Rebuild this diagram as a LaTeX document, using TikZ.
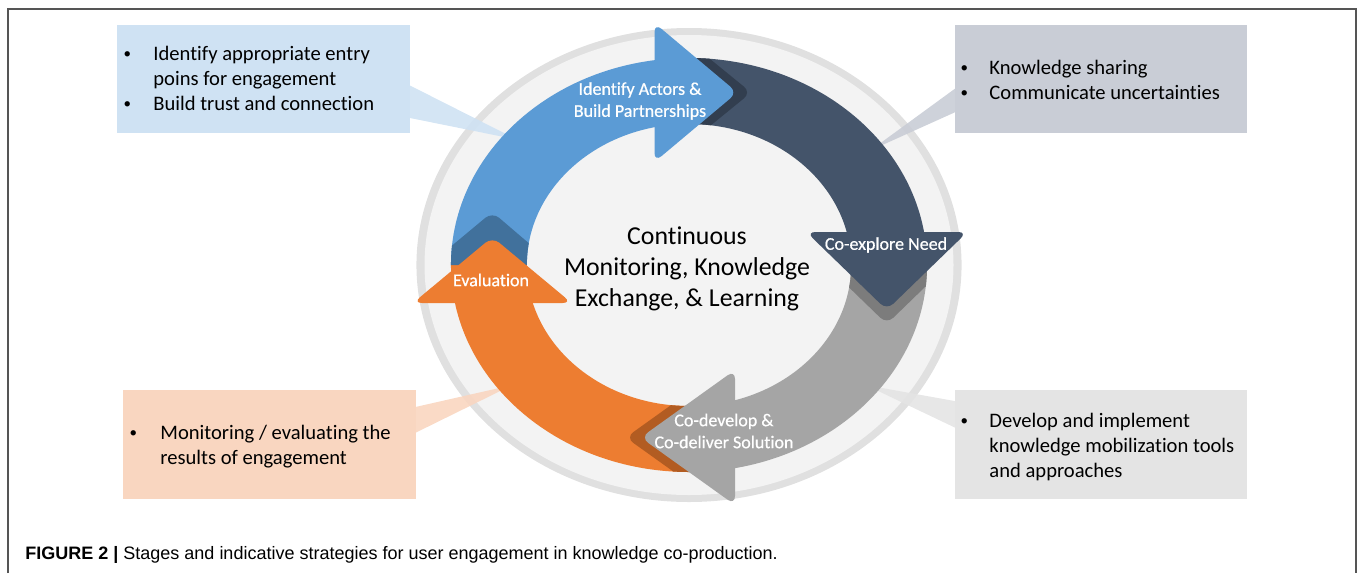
\documentclass[tikz,border=0pt]{standalone}
\usepackage{fontspec}
\setmainfont{Carlito}[Ligatures=NoCommon]
\newfontfamily\lblfont{Carlito}[Ligatures=NoCommon, FakeBold=0.6]
\newfontfamily\capfont{Liberation Sans}
\definecolor{bluec}{HTML}{5B9BD5}
\definecolor{blues}{HTML}{41719C}
\definecolor{navyc}{HTML}{44546A}
\definecolor{navys}{HTML}{323E4F}
\definecolor{grayc}{HTML}{A5A5A5}
\definecolor{grays}{HTML}{7C7C7C}
\definecolor{orangec}{HTML}{ED7D31}
\definecolor{oranges}{HTML}{B25C22}
\definecolor{ringc}{HTML}{E0E0E0}
\definecolor{discc}{HTML}{F3F3F3}
\definecolor{tlc}{HTML}{CFE2F3}
\definecolor{trc}{HTML}{C9CDD6}
\definecolor{blc}{HTML}{F9D6C0}
\definecolor{brc}{HTML}{E4E4E4}
\definecolor{framec}{HTML}{555555}
\newcommand{\bulA}[1]{\makebox[#1][l]{\hspace{0.6pt}\raisebox{0.7pt}{\fontsize{7.5}{7.5}\selectfont •}}}
\tikzset{
  lbl/.style={text=white, font=\lblfont\fontsize{9}{11}\selectfont, align=center, inner sep=0pt},
  btxt/.style={anchor=base west, inner sep=0pt, font=\fontsize{10.3}{12.6}\selectfont},
  headshape/.style={rounded corners=4.5pt},
}
\begin{document}
\begin{tikzpicture}[x=0.5pt,y=-0.5pt]
\useasboundingbox (0,0) rectangle (1358,573);
% frame
\draw[framec, line width=1pt] (7.5,573) -- (7.5,8.5) -- (1355.5,8.5) -- (1355.5,573);

% background disc
\begin{scope}[shift={(689,265)}, xscale=1.15, yscale=-1]
  \fill[ringc] (0,0) circle (237);
  \fill[discc] (0,0) circle (230);
  \coordinate (tTL) at (140:195);
  \coordinate (tTR) at (36:195);
  \coordinate (tBL) at (218:195);
  \coordinate (tBR) at (-38:195);
\end{scope}

% callout wedges
\coordinate (wTL1) at (405,83);  \coordinate (wTL2) at (405,117);
\coordinate (wTR1) at (960,85);  \coordinate (wTR2) at (960,110);
\coordinate (wBL1) at (411,408); \coordinate (wBL2) at (411,435);
\coordinate (wBR1) at (960,402); \coordinate (wBR2) at (960,430);
\fill[tlc, opacity=.9] (wTL1) -- (wTL2) -- (tTL) -- cycle;
\fill[trc, opacity=.9] (wTR1) -- (wTR2) -- (tTR) -- cycle;
\fill[blc, opacity=.9] (wBL1) -- (wBL2) -- (tBL) -- cycle;
\fill[brc, opacity=.9] (wBR1) -- (wBR2) -- (tBR) -- cycle;

% cycle arrows
\begin{scope}[shift={(689,265)}, xscale=1.15, yscale=-1]
  % bodies
  \fill[bluec] (180:207) arc[start angle=180,end angle=90,radius=207] -- (90:141) arc[start angle=90,end angle=180,radius=141] -- cycle;
  \fill[navyc] (90:207) arc[start angle=90,end angle=0,radius=207] -- (0:141) arc[start angle=0,end angle=90,radius=141] -- cycle;
  \fill[grayc] (0:207) arc[start angle=0,end angle=-90,radius=207] -- (-90:141) arc[start angle=-90,end angle=0,radius=141] -- cycle;
  \fill[orangec] (-90:207) arc[start angle=-90,end angle=-180,radius=207] -- (-180:141) arc[start angle=-180,end angle=-90,radius=141] -- cycle;
  % shadows
  \begin{scope}
    \clip (90:207) arc[start angle=90,end angle=0,radius=207] -- (0:141) arc[start angle=0,end angle=90,radius=141] -- cycle;
    \fill[navys, headshape, shift={(12,0)}] (-30,172.5) -- (-30,240) -- (42,172.5) -- (-30,105) -- cycle;
  \end{scope}
  \begin{scope}
    \clip (0:207) arc[start angle=0,end angle=-90,radius=207] -- (-90:141) arc[start angle=-90,end angle=0,radius=141] -- cycle;
    \fill[grays, headshape, shift={(0,-14)}] (172,33) -- (242,33) -- (172,-45) -- (102,33) -- cycle;
  \end{scope}
  \begin{scope}
    \clip (-90:207) arc[start angle=-90,end angle=-180,radius=207] -- (-180:141) arc[start angle=-180,end angle=-90,radius=141] -- cycle;
    \fill[oranges, headshape, shift={(-13,0)}] (40,-172.5) -- (40,-105) -- (-42,-172.5) -- (40,-240) -- cycle;
  \end{scope}
  \begin{scope}
    \clip (180:207) arc[start angle=180,end angle=90,radius=207] -- (90:141) arc[start angle=90,end angle=180,radius=141] -- cycle;
    \fill[blues, headshape, shift={(0,25)}] (-171,-38) -- (-104,-38) -- (-171,28) -- (-240,-38) -- cycle;
  \end{scope}
  % heads
  \fill[bluec, headshape] (-30,172.5) -- (-30,242) -- (42,172.5) -- (-30,103) -- cycle;
  \fill[navyc, headshape] (172,33) -- (242,33) -- (172,-45) -- (102,33) -- cycle;
  \fill[grayc, headshape] (40,-172.5) -- (40,-105) -- (-42,-172.5) -- (40,-240) -- cycle;
  \fill[orangec, headshape] (-171,-38) -- (-102,-38) -- (-171,28) -- (-240,-38) -- cycle;
\end{scope}

% stage labels
\node[lbl] (lblA) at (640,101) {Identify Actors \&\\Build Partnerships};
\node[lbl] (lblB) at (886,245) {Co-explore Need};
\node[lbl] (lblC) at (724,431) {Co-develop \&\\Co-deliver Solution};
\node[lbl] (lblD) at (491,280) {Evaluation};

% centre text
\node[anchor=base, inner sep=0pt, font=\fontsize{12.9}{15.5}\selectfont] (ctr) at (687,244)
  {\begin{tabular}[t]{@{}c@{}}Continuous\\Monitoring, Knowledge\\Exchange, \& Learning\end{tabular}};

% callout boxes
\fill[tlc] (117,25) rectangle (410,133);
\fill[trc] (955,25) rectangle (1247,133);
\fill[blc] (123,390) rectangle (416,499);
\fill[brc] (955,390) rectangle (1247,499);

\node[btxt] (tlT) at (122,60) {\begin{tabular}[t]{@{}l@{}l@{}}\bulA{15.5pt}&Identify appropriate entry\\ &poins for engagement\\ \bulA{15.5pt}&Build trust and connection\end{tabular}};
\node[btxt] (trT) at (959,74) {\begin{tabular}[t]{@{}l@{}l@{}}\bulA{15pt}&Knowledge sharing\\ \bulA{15pt}&Communicate uncertainties\end{tabular}};
\node[btxt] (blT) at (128,439) {\begin{tabular}[t]{@{}l@{}l@{}}\bulA{16pt}&Monitoring / evaluating the\\ &results of engagement\end{tabular}};
\node[btxt] (brT) at (959,427) {\begin{tabular}[t]{@{}l@{}l@{}}\bulA{15pt}&Develop and implement\\ &knowledge mobilization tools\\ &and approaches\end{tabular}};

% caption
\node[anchor=base west, inner sep=0pt, font=\capfont\fontsize{9}{11}\selectfont] (cap) at (25,559)
  {\textbf{FIGURE 2 |} Stages and indicative strategies for user engagement in knowledge co-production.};
\end{tikzpicture}
\end{document}
